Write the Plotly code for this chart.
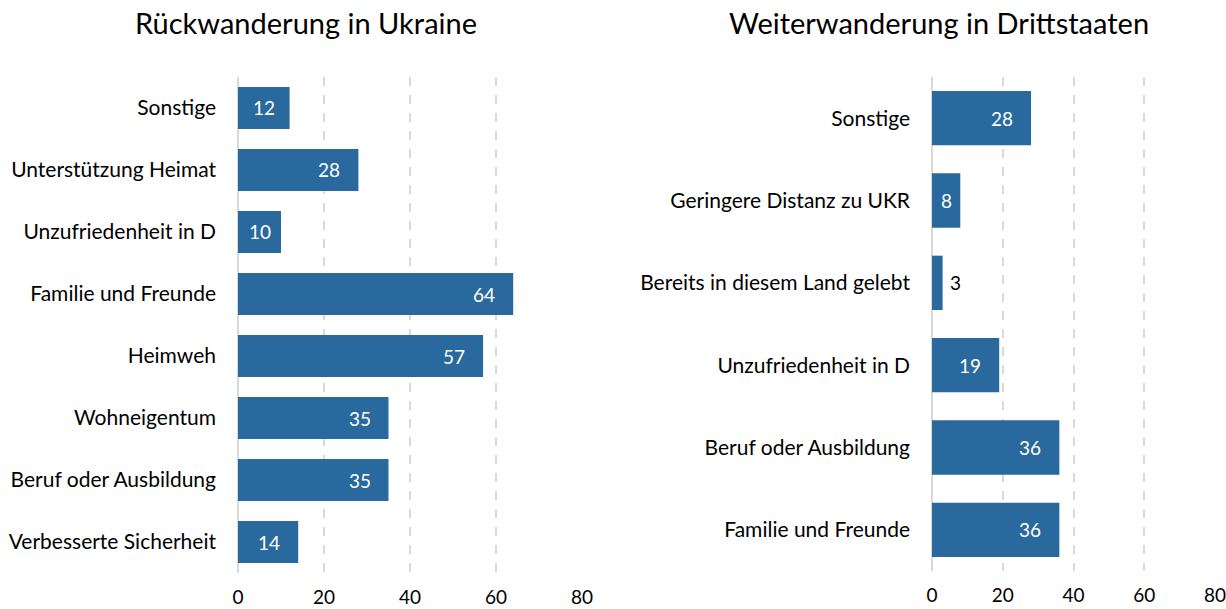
import plotly.graph_objects as go
from plotly.subplots import make_subplots

# Reasons for return migration to Ukraine (top to bottom)
rueck_labels = ["Sonstige", "Unterstützung Heimat", "Unzufriedenheit in D",
                "Familie und Freunde", "Heimweh", "Wohneigentum",
                "Beruf oder Ausbildung", "Verbesserte Sicherheit"]
rueck_values = [12, 28, 10, 64, 57, 35, 35, 14]

# Reasons for onward migration to third countries (top to bottom)
weiter_labels = ["Sonstige", "Geringere Distanz zu UKR", "Bereits in diesem Land gelebt",
                 "Unzufriedenheit in D", "Beruf oder Ausbildung", "Familie und Freunde"]
weiter_values = [28, 8, 3, 19, 36, 36]

x_ticks = [0, 20, 40, 60, 80]

BAR = "#2a699d"
GRID = "#d9d9d9"
FONT = "Lato"
W, H = 1226.0, 609.0
X_MAX = 80

# panel geometry in pixels: (left, right, top, bottom)
panels = {1: (238, 582, 77, 573), 2: (932, 1215, 77, 571)}

fig = make_subplots(rows=1, cols=2)


def add_panel(labels, values, col, width):
    left, right, top, bottom = panels[col]
    fig.add_trace(go.Bar(
        y=labels, x=values, orientation="h",
        marker=dict(color=BAR, line=dict(width=0)),
        width=width, showlegend=False, hoverinfo="x+y",
    ), row=1, col=col)

    px_per_unit = (right - left) / X_MAX
    xref = "x" if col == 1 else "x2"
    yref = "y" if col == 1 else "y2"
    for lab, v in zip(labels, values):
        bar_px = v * px_per_unit
        txt_w = 11 * len(str(v))
        if bar_px < txt_w + 6:
            # too narrow: label sits just outside the bar end
            fig.add_annotation(x=v, y=lab, xref=xref, yref=yref, text=str(v),
                               showarrow=False, xanchor="left", xshift=5,
                               font=dict(size=19, family=FONT, color="black"))
        elif bar_px < txt_w + 34:
            fig.add_annotation(x=v / 2, y=lab, xref=xref, yref=yref, text=str(v),
                               showarrow=False, xanchor="center",
                               font=dict(size=19, family=FONT, color="white"))
        else:
            fig.add_annotation(x=v, y=lab, xref=xref, yref=yref, text=str(v),
                               showarrow=False, xanchor="right", xshift=-16,
                               font=dict(size=19, family=FONT, color="white"))


add_panel(rueck_labels, rueck_values, 1, 0.68)
add_panel(weiter_labels, weiter_values, 2, 0.66)

fig.update_xaxes(range=[0, X_MAX], tickvals=x_ticks, showgrid=True, gridcolor=GRID,
                 gridwidth=2, griddash="dash", zeroline=True, zerolinecolor=GRID,
                 zerolinewidth=2, showline=False, ticks="", automargin=False,
                 ticklabeloverflow="allow",
                 tickfont=dict(size=19, family=FONT, color="black"),
                 ticklabelstandoff=11, fixedrange=True)
fig.update_yaxes(autorange="reversed", showgrid=False, zeroline=False, showline=False,
                 ticks="", automargin=False,
                 tickfont=dict(size=21, family=FONT, color="black"),
                 ticklabelstandoff=21, fixedrange=True)

for col, (left, right, top, bottom) in panels.items():
    fig.update_xaxes(domain=[left / W, right / W], row=1, col=col)
    fig.update_yaxes(domain=[1 - bottom / H, 1 - top / H], row=1, col=col)

for title, cx in [("Rückwanderung in Ukraine", 306), ("Weiterwanderung in Drittstaaten", 939)]:
    fig.add_annotation(text=title, x=cx / W, y=1 - 23 / H, xref="paper", yref="paper",
                       xanchor="center", yanchor="middle", showarrow=False,
                       font=dict(size=29, family=FONT, color="black"))

fig.update_layout(width=1226, height=609, margin=dict(l=0, r=0, t=0, b=0),
                  plot_bgcolor="white", paper_bgcolor="white",
                  font=dict(family=FONT))

fig.write_html("out.html")
